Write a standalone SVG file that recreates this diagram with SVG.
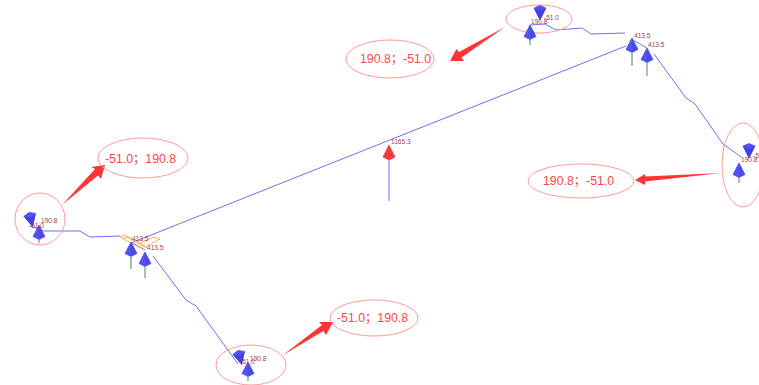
<svg xmlns="http://www.w3.org/2000/svg" width="759" height="385" viewBox="0 0 759 385">
<style>
.p{fill:none;stroke:#6e6eff;stroke-width:1}
.e{fill:none;stroke:#ff9a9a;stroke-width:1}
.h{fill:#ff3434}
.c{font-family:"Liberation Sans","Noto Sans CJK SC",sans-serif;font-size:12.3px;fill:#ff4646}
.t{font-family:"Liberation Sans",sans-serif;font-size:6.6px;fill:#a53c50}
.s{stroke:#4f8060;stroke-width:1;fill:none}
.k{fill:#5252f0;stroke:#5252f0;stroke-width:.8;stroke-linejoin:round}
.d{fill:#3c3cd0}
.o{fill:none;stroke:#ffb060;stroke-width:1}
</style>
<defs>
<g id="cone"><path class="k" d="M0 0L-6 11.500L0 14.500L6 11.500Z"/><path class="d" d="M0 1L5 11.500L0 14Z" opacity=".4"/></g>
<g id="down"><path class="k" d="M-6 3L0 .5L6 3L0 15Z"/><path class="d" d="M0 6L6 3L0 15L-6 3Z" opacity=".7"/></g>
</defs>
<g id="connectors">
<path class="p" d="M30 226L44 231L80 231L90 237L120 236"/>
<path class="p" d="M131 243L626 46"/>
<path class="p" d="M131 242L145 250"/>
<path class="p" d="M633 40L647 48M654 54L686 98L695 104L723 144L741 157"/>
<path class="p" d="M153 256L186 300L196 306L238 364"/>
<path class="p" d="M530 25L545 24L556 30L582 28L591 34L625 33"/>
<path class="p" d="M389 147V201"/>
<path class="h" d="M62 205L95 169L91 167L105 165L101 179L98 175.500Z"/>
<path class="h" d="M283 355L322 325L319 322L333 322L326 335L323.500 331Z"/>
<path class="h" d="M505 27L459 52L456.500 49L450 61L464 61L461.500 57.500Z"/>
<path class="h" d="M721 173L645 176.500L645 174L635 180L645 185L645 181.500Z"/>
</g>
<g id="node-left"><ellipse class="e" cx="40" cy="219" rx="25" ry="26"/>
<use href="#down" transform="translate(29 212) rotate(-14)"/><use href="#cone" transform="translate(39 225)"/><path class="s" d="M39 240V243"/>
<text class="t" x="41" y="223">190.8</text><text class="t" x="29" y="228">-51.0</text></g>
<g id="node-junction-left"><path class="o" d="M120 237L125 235L145 246L140 248ZM138 244L154 237L160 239L145 247M122 239L127 237L147 248"/>
<use href="#cone" transform="translate(131 242)"/><path class="s" d="M131 257V269"/>
<use href="#cone" transform="translate(145 252)"/><path class="s" d="M145 267V278"/>
<text class="t" x="132" y="241">413.5</text><text class="t" x="147" y="250">413.5</text></g>
<g id="node-bottom"><ellipse class="e" cx="251" cy="365" rx="35" ry="20"/>
<use href="#down" transform="translate(238 350) rotate(-14)"/><use href="#cone" transform="translate(248 362)"/><path class="s" d="M248 377V381"/>
<text class="t" x="250" y="361">190.8</text><text class="t" x="240" y="364">-51.0</text></g>
<g id="node-top"><ellipse class="e" cx="539" cy="19" rx="33" ry="14"/>
<use href="#down" transform="translate(540 5)"/><use href="#cone" transform="translate(530 25)"/><path class="s" d="M530 40V45"/>
<text class="t" x="544" y="20">-51.0</text><text class="t" x="531" y="24">190.8</text></g>
<g id="node-junction-right">
<use href="#cone" transform="translate(632 38)"/><path class="s" d="M632 53V66"/>
<use href="#cone" transform="translate(647 48)"/><path class="s" d="M647 63V76"/>
<text class="t" x="634" y="38">413.5</text><text class="t" x="648" y="47">413.5</text></g>
<g id="node-right"><ellipse class="e" cx="743" cy="165" rx="21" ry="42"/>
<use href="#down" transform="translate(749 143)"/><use href="#cone" transform="translate(739 163)"/><path class="s" d="M739 178V183"/>
<text class="t" x="741" y="162">190.8</text><text class="t" x="753" y="158">-51.0</text></g>
<g id="node-center"><path fill="#f03c3c" stroke="#f03c3c" stroke-width=".8" stroke-linejoin="round" d="M389 145L383 157L389 160L395 157Z"/><text class="t" x="391" y="144">1165.3</text></g>
<g id="callout-1"><ellipse class="e" cx="143" cy="158" rx="45" ry="20"/><text class="c" x="105" y="163">-51.0；190.8</text></g>
<g id="callout-2"><ellipse class="e" cx="374" cy="318" rx="44" ry="18"/><text class="c" x="337" y="322">-51.0；190.8</text></g>
<g id="callout-3"><ellipse class="e" cx="390" cy="59" rx="44" ry="19"/><text class="c" x="360" y="63">190.8；-51.0</text></g>
<g id="callout-4"><ellipse class="e" cx="581" cy="181" rx="53" ry="17"/><text class="c" x="543" y="185">190.8；-51.0</text></g>
</svg>
